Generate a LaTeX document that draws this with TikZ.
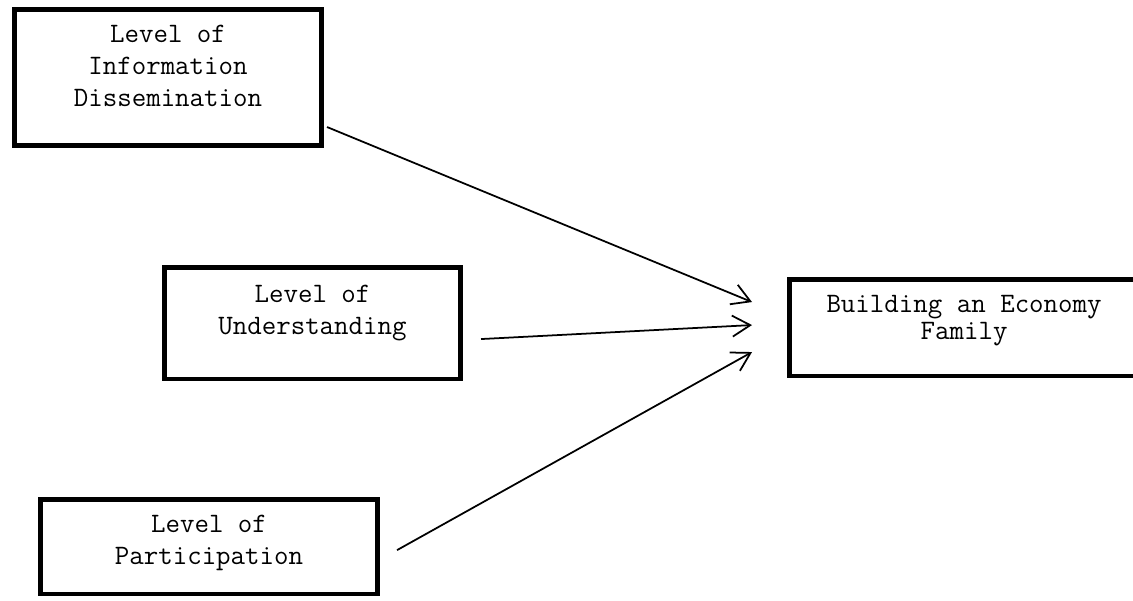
\documentclass[tikz,border=0pt]{standalone}
\usepackage{fontspec}
\usetikzlibrary{positioning,arrows.meta}
\newcommand{\lowpad}[1]{\rule[-#1]{0pt}{#1}}

\begin{document}
\begin{tikzpicture}[
		>={Straight Barb[length=0.36cm,width=0.42cm]},
		every node/.style={
			font=\ttfamily\fontsize{16}{18.1}\selectfont,
			align=center
		},
		box/.style={draw, line width=2.6pt, rectangle},
		flow/.style={->, line width=1pt}
		]
		
		\useasboundingbox (0,0) rectangle (22.66,12.02);
		
		%--------------------------------------------------
		% Variables
		%--------------------------------------------------
		
		\node[box, minimum width=6.15cm, minimum height=2.73cm] (info) at (3.36,10.47) {Level of\\Information\\Dissemination\lowpad{0.46cm}};
		\node[box, minimum width=5.93cm, minimum height=2.23cm] (und) [below=2.34cm of info, xshift=2.89cm] {Level of\\Understanding\lowpad{0.53cm}};
		\node[box, minimum width=6.75cm, minimum height=1.89cm] (part) [below=2.32cm of und, xshift=-2.07cm] {Level of\\Participation\lowpad{0.26cm}};
		\node[box, minimum width=6.99cm, minimum height=1.93cm, font=\ttfamily\fontsize{16}{15.5}\selectfont] (fam) [right=6.48cm of und, yshift=-0.09cm] {Building an Economy\\Family\lowpad{0.41cm}};
		
		%--------------------------------------------------
		% Influences
		%--------------------------------------------------
		
		\coordinate (info-out) at ([shift={(0.06,0.42)}]info.south east);
		\coordinate (und-out) at ([shift={(0.36,-0.32)}]und.east);
		\coordinate (part-out) at ([shift={(0.34,-0.07)}]part.east);
		\coordinate (fam-in1) at ([shift={(-0.70,0.51)}]fam.west);
		\coordinate (fam-in2) at ([shift={(-0.70,0.05)}]fam.west);
		\coordinate (fam-in3) at ([shift={(-0.70,-0.49)}]fam.west);
		
		\foreach \s/\t in {info-out/fam-in1,und-out/fam-in2,part-out/fam-in3}
		{
			\draw[flow] (\s) -- (\t);
		}
		
	\end{tikzpicture}
\end{document}
